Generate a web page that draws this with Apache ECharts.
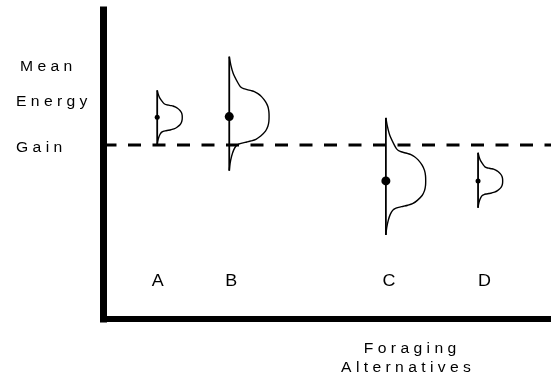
<!DOCTYPE html>
<html>
<head>
<meta charset="utf-8">
<style>
html,body{margin:0;padding:0;background:#fff;}
#chart{width:551px;height:383px;}
</style>
<script src="https://cdn.jsdelivr.net/npm/echarts@6/dist/echarts.min.js"></script>
</head>
<body>
<div id="chart"></div>
<script>
// ---- data (axis units 0..100) ----
const categories = ['A', 'B', 'C', 'D'];
const xPos = [12.0, 28.1, 63.1, 83.7];
const meanGain = [65.3, 65.5, 44.7, 44.7];
const spreadUp = [8.7, 19.4, 20.4, 9.1];
const spreadDown = [9.0, 17.5, 17.5, 8.7];
const peakWidth = [5.6, 8.9, 8.9, 5.5];
const threshold = 56.3;
const labelLevel = 12.0;
// shared distribution profile: u (+1 top .. -1 bottom), relative width
const profileU = [1.00, 0.86, 0.72, 0.56, 0.50, 0.467, 0.45, 0.433, 0.417, 0.383, 0.333, 0.25, 0.167, 0.083, 0.00,
                  -0.09, -0.18, -0.27, -0.36, -0.42, -0.45, -0.47, -0.49, -0.51, -0.545, -0.62, -0.73, -0.87, -1.00];
const profileW = [0.00, 0.04, 0.10, 0.22, 0.28, 0.36, 0.45, 0.55, 0.63, 0.72, 0.81, 0.91, 0.97, 0.995, 1.00,
                  0.995, 0.97, 0.91, 0.79, 0.67, 0.55, 0.44, 0.32, 0.24, 0.17, 0.11, 0.06, 0.02, 0.00];
const yTitleLines = ['M e a n', 'E n e r g y', 'G a i n'];
const xTitleLines = ['F o r a g i n g', 'A l t e r n a t i v e s'];

// ---- styles ----
const dotRadius = { A: 2.5, B: 4.5, C: 4.5, D: 2.5 };
const labelDx = { A: 0.5, B: 2, C: 3, D: 6.5 };
const FONT = 'Liberation Sans, Arial, sans-serif';

const chart = echarts.init(document.getElementById('chart'), null, { renderer: 'canvas' });

const items = categories.map((c, i) => [xPos[i], meanGain[i], spreadUp[i], spreadDown[i], peakWidth[i], i]);

function renderItem(params, api) {
  const i = api.value(5);
  const x = api.value(0), m = api.value(1), up = api.value(2), dn = api.value(3), pw = api.value(4);
  const cat = categories[i];
  const top = api.coord([x, m + up]);
  const bot = api.coord([x, m - dn]);
  const ctr = api.coord([x, m]);
  const pts = profileU.map((u, k) => {
    const yv = u >= 0 ? m + u * up : m + u * dn;
    return api.coord([x + profileW[k] * pw, yv]);
  });
  const lab = api.coord([x, labelLevel]);
  return {
    type: 'group',
    children: [
      { type: 'polyline', shape: { points: pts, smooth: 0.25 },
        style: { stroke: '#000', fill: null, lineWidth: 1.4 } },
      { type: 'line', shape: { x1: top[0], y1: top[1], x2: bot[0], y2: bot[1] },
        style: { stroke: '#000', lineWidth: 1.8 } },
      { type: 'circle', shape: { cx: ctr[0], cy: ctr[1], r: dotRadius[cat] },
        style: { fill: '#000' } },
      { type: 'text', x: lab[0] + labelDx[cat], y: lab[1], scaleX: 1.12,
        style: { x: 0, y: 0, text: cat, fill: '#000', font: '16px ' + FONT, align: 'center', verticalAlign: 'middle' } }
    ]
  };
}

const graphics = [];
const yTitleX = [20, 16, 16];
const yTitleY = [67, 102.5, 148.5];
yTitleLines.forEach((t, k) => {
  graphics.push({ type: 'text', x: yTitleX[k], y: yTitleY[k], scaleX: 1.12,
    style: { x: 0, y: 0, text: t, fill: '#000', font: '14px ' + FONT, align: 'left', verticalAlign: 'middle' } });
});
const xTitleCx = [410, 406];
const xTitleY = [349, 368];
xTitleLines.forEach((t, k) => {
  graphics.push({ type: 'text', x: xTitleCx[k], y: xTitleY[k], scaleX: 1.12,
    style: { x: 0, y: 0, text: t, fill: '#000', font: '14px ' + FONT, align: 'center', verticalAlign: 'middle' } });
});

chart.setOption({
  animation: false,
  backgroundColor: '#fff',
  grid: { left: 103.5, right: 0, top: 10, bottom: 64, containLabel: false },
  xAxis: {
    type: 'value', min: 0, max: 100,
    axisLine: { show: true, onZero: false, lineStyle: { color: '#000', width: 6, cap: 'square' } },
    axisTick: { show: false }, axisLabel: { show: false }, splitLine: { show: false }
  },
  yAxis: {
    type: 'value', min: 0, max: 100,
    axisLine: { show: true, onZero: false, lineStyle: { color: '#000', width: 7, cap: 'square' } },
    axisTick: { show: false }, axisLabel: { show: false }, splitLine: { show: false }
  },
  graphic: graphics,
  series: [
    {
      type: 'line', data: [[0, threshold], [100, threshold]], symbol: 'none',
      lineStyle: { color: '#000', width: 3, type: [13, 11.5] }, z: 1, silent: true
    },
    {
      type: 'custom', renderItem: renderItem, data: items, z: 3, silent: true,
      encode: { x: 0, y: 1 }
    }
  ]
});
</script>
</body>
</html>
